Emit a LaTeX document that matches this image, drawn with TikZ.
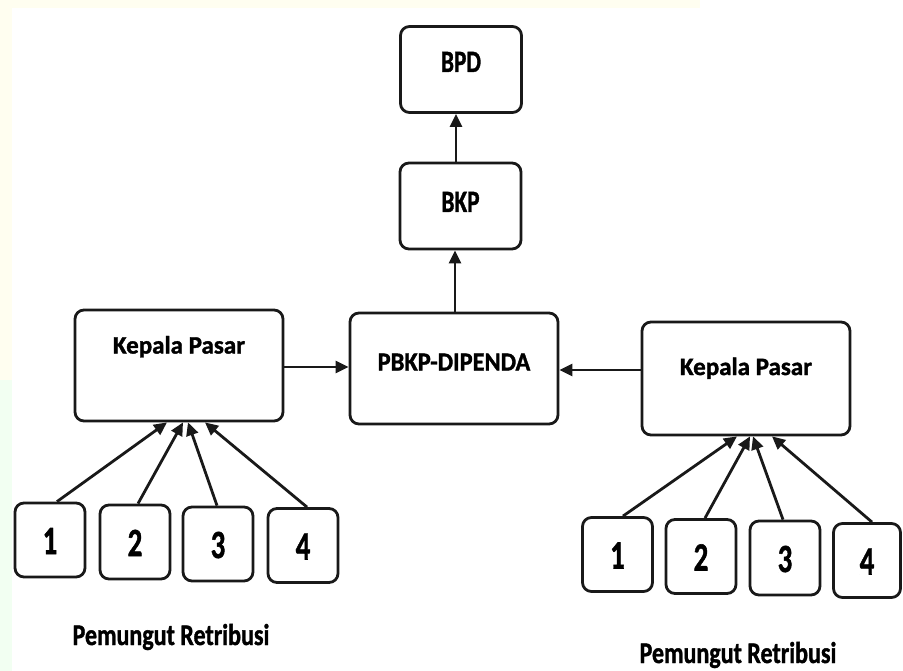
\documentclass[tikz,border=0pt]{standalone}
\usepackage{fontspec}
\usepackage{graphicx}
\setmainfont{Carlito}[BoldFeatures={FakeBold=1.4}]
\usetikzlibrary{arrows.meta}
\newcommand{\tx}[4]{\raisebox{#4pt}[0pt][0pt]{\scalebox{#1}[1]{\fontsize{#2}{#2}\selectfont\bfseries #3}}}
\begin{document}
\begin{tikzpicture}[x=1pt,y=1pt,
  box/.style={draw=black!90, line width=2.8pt, rounded corners=9pt, inner sep=0pt, fill=white},
  bigbox/.style={box, minimum width=208pt, minimum height=111pt},
  topbox/.style={box, minimum width=121pt, minimum height=86pt},
  numbox/.style={box, minimum width=70pt, minimum height=74pt},
  conn/.style={draw=black!90, line width=2.8pt, -{Triangle[length=13pt,width=12pt]}},
  caption/.style={anchor=base, inner sep=0pt}
]
\useasboundingbox (0,-671) rectangle (903,0);
\fill[white] (0,-671) rectangle (903,0);
\fill[yellow!6] (0,-380) rectangle (12,0);
\fill[green!5] (0,-671) rectangle (12,-380);
\fill[yellow!6] (0,-8) rectangle (700,0);

% boxes
\node[topbox] (bpd) at (461,-69.5) {\tx{0.75}{31}{BPD}{-2.5}};
\node[topbox] (bkp) at (460.5,-206) {\tx{0.75}{31}{BKP}{-6}};
\node[bigbox] (pbkp) at (454,-368.5) {\tx{0.94}{26}{PBKP-DIPENDA}{-2}};
\node[bigbox] (kpl) at (179,-365.5) {\tx{1.0}{25}{Kepala Pasar}{12}};
\node[bigbox, minimum height=113pt] (kpr) at (746,-378.5) {\tx{1.0}{25}{Kepala Pasar}{3.5}};

\node[numbox] (l1) at (50,-540) {\tx{0.72}{40}{1}{-14}};
\node[numbox] (l2) at (135,-542) {\tx{0.72}{40}{2}{-14}};
\node[numbox] (l3) at (218,-544) {\tx{0.72}{40}{3}{-14}};
\node[numbox] (l4) at (303,-545.5) {\tx{0.72}{40}{4}{-14}};

\node[numbox] (r1) at (617.5,-554.5) {\tx{0.72}{40}{1}{-14}};
\node[numbox] (r2) at (701,-556.5) {\tx{0.72}{40}{2}{-14}};
\node[numbox] (r3) at (785,-558) {\tx{0.72}{40}{3}{-14}};
\node[numbox, minimum width=67pt] (r4) at (867,-560.5) {\tx{0.72}{40}{4}{-14}};

\node[caption] (capl) at (171,-645) {\scalebox{0.8}[1]{\fontsize{30}{30}\selectfont\bfseries Pemungut Retribusi}};
\node[caption] (capr) at (738,-663) {\scalebox{0.8}[1]{\fontsize{30}{30}\selectfont\bfseries Pemungut Retribusi}};

% connectors
\draw[conn] ([xshift=1pt]pbkp.north) -- ([xshift=-5.5pt]bkp.south);
\draw[conn] ([xshift=-4.5pt]bkp.north) -- ([xshift=-5pt]bpd.south);
\draw[conn] ([yshift=-1.5pt]kpl.east) -- ([yshift=1.5pt]pbkp.west);
\draw[conn] ([yshift=8.5pt]kpr.west) -- ([yshift=-1.5pt]pbkp.east);

\draw[conn] ([xshift=7pt]l1.north) -- ([xshift=-12pt]kpl.south);
\draw[conn] ([xshift=3pt]l2.north) -- ([xshift=4pt]kpl.south);
\draw[conn] ([xshift=-1pt]l3.north) -- ([xshift=9pt]kpl.south);
\draw[conn] ([xshift=4pt]l4.north) -- ([xshift=26pt]kpl.south);

\draw[conn] ([xshift=5.5pt]r1.north) -- ([xshift=-9pt]kpr.south);
\draw[conn] ([xshift=4pt]r2.north) -- ([xshift=4pt]kpr.south);
\draw[conn] ([xshift=-2pt]r3.north) -- ([xshift=7pt]kpr.south);
\draw[conn] ([xshift=5pt]r4.north) -- ([xshift=26pt]kpr.south);
\end{tikzpicture}
\end{document}
